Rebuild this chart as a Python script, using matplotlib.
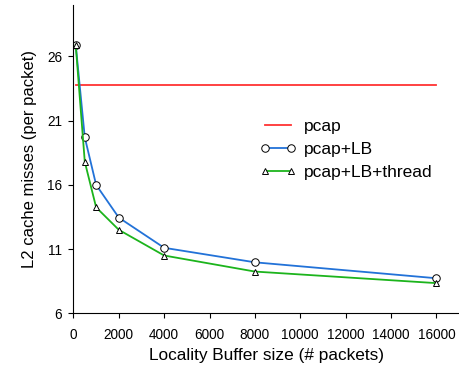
import matplotlib
matplotlib.use("Agg")
import matplotlib.pyplot as plt

# buffer sizes (# packets)
buf_sizes = [100, 500, 1000, 2000, 4000, 8000, 16000]
pcap = [23.75, 23.75, 23.75, 23.75, 23.75, 23.75, 23.75]
pcap_lb = [26.9, 19.7, 16.0, 13.45, 11.1, 9.97, 8.73]
pcap_lb_thread = [26.9, 17.8, 14.25, 12.5, 10.5, 9.25, 8.35]

xticks = [0, 2000, 4000, 6000, 8000, 10000, 12000, 14000, 16000]
yticks = [6, 11, 16, 21, 26]

plt.rcParams['font.family'] = ['Liberation Sans', 'DejaVu Sans']

fig = plt.figure(figsize=(4.59, 3.67), dpi=100)
ax = fig.add_axes([0.16, 0.1463, 0.84, 0.84])

ax.plot(buf_sizes, pcap, color="#ff3333", linewidth=1.3, label="pcap")
ax.plot(buf_sizes, pcap_lb, color="#2272d8", linewidth=1.3, marker="o",
        markersize=5.4, markerfacecolor="white", markeredgecolor="black",
        markeredgewidth=0.7, label="pcap+LB")
ax.plot(buf_sizes, pcap_lb_thread, color="#1cb41c", linewidth=1.3, marker="^",
        markersize=5.0, markerfacecolor="white", markeredgecolor="black",
        markeredgewidth=0.7, label="pcap+LB+thread")

ax.set_xlim(0, 17000)
ax.set_ylim(6, 30)
ax.set_xticks(xticks)
ax.set_yticks(yticks)
ax.tick_params(labelsize=9.8, direction="out", length=3.6, width=0.8)
ax.tick_params(axis="x", pad=7)
ax.tick_params(axis="y", pad=4.5)

ax.spines['top'].set_visible(False)
ax.spines['right'].set_visible(False)

ax.set_xlabel("Locality Buffer size (# packets)", fontsize=12.4, labelpad=4)
ax.set_ylabel("L2 cache misses (per packet)", fontsize=12.0, labelpad=7)

ax.legend(loc="upper left", bbox_to_anchor=(0.484, 0.63), frameon=False,
          fontsize=12.5, numpoints=2, handlelength=2.1, handletextpad=0.45,
          labelspacing=0.45, borderpad=0, borderaxespad=0)

fig.savefig("out.png", dpi=100)
